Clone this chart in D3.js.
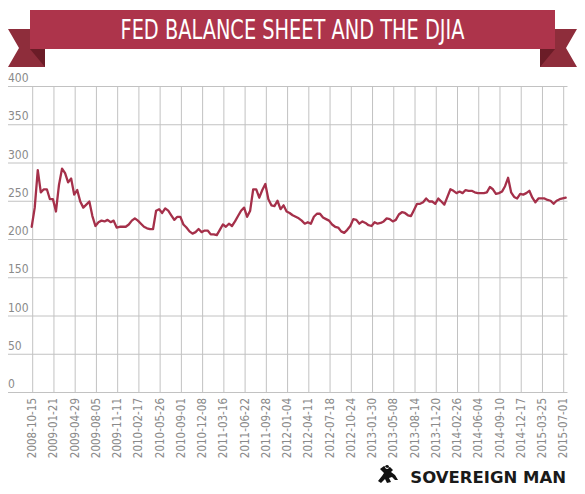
<!DOCTYPE html>
<html>
<head>
<meta charset="utf-8">
<script src="https://cdn.jsdelivr.net/npm/d3@7/dist/d3.min.js"></script>
<style>
  html, body { margin: 0; padding: 0; background: #fff; }
  svg { display: block; }
  .narrow { font-family: "Liberation Sans Narrow", "DejaVu Sans Condensed", "Roboto", "Liberation Sans", sans-serif; }
</style>
</head>
<body>
<div id="chart"></div>
<script>
// ---- data ----
const title = "FED BALANCE SHEET AND THE DJIA";
const brand = "SOVEREIGN MAN";
const startDate = "2008-10-15";   // first observation
const stepDays = 14;              // one value every two weeks
const values = [
  216, 241, 290, 261, 265, 265, 252, 252, 236, 271,
  292, 286, 274, 279, 258, 264, 249, 241, 245, 249,
  230, 217, 222, 224, 223, 225, 222, 224, 215, 216,
  216, 216, 219, 224, 227, 224, 220, 216, 214, 213,
  213, 237, 239, 234, 240, 237, 231, 225, 229, 229,
  219, 215, 210, 207, 209, 213, 209, 211, 211, 206,
  206, 205, 212, 219, 216, 220, 217, 223, 230, 237,
  241, 229, 237, 265, 265, 254, 264, 272, 252, 244,
  243, 250, 239, 244, 236, 234, 231, 229, 227, 224,
  220, 222, 220, 229, 233, 233, 228, 226, 224, 219,
  216, 215, 210, 208, 212, 217, 226, 225, 220, 223,
  221, 218, 217, 222, 220, 221, 223, 227, 226, 223,
  225, 232, 235, 234, 231, 230, 238, 246, 246, 248,
  253, 249, 249, 246, 253, 249, 245, 255, 265, 263,
  260, 262, 260, 264, 263, 263, 261, 260, 260, 260,
  261, 268, 265, 259, 260, 262, 269, 280, 261, 255,
  253, 259, 258, 260, 263, 254, 248, 253, 253, 253,
  251, 250, 246, 250, 252, 253, 254
];
const xTickLabels = [
  "2008-10-15", "2009-01-21", "2009-04-29", "2009-08-05", "2009-11-11",
  "2010-02-17", "2010-05-26", "2010-09-01", "2010-12-08", "2011-03-16",
  "2011-06-22", "2011-09-28", "2012-01-04", "2012-04-11", "2012-07-18",
  "2012-10-24", "2013-01-30", "2013-05-08", "2013-08-14", "2013-11-20",
  "2014-02-26", "2014-06-04", "2014-09-10", "2014-12-17", "2015-03-25",
  "2015-07-01"
];
const yTicks = [0, 50, 100, 150, 200, 250, 300, 350, 400];

// ---- build ----
const W = 585, H = 494;
const parse = d3.utcParse("%Y-%m-%d");
const t0 = parse(startDate);
const series = values.map((v, i) => ({ date: d3.utcDay.offset(t0, i * stepDays), value: v }));

const svg = d3.select("#chart").append("svg").attr("width", W).attr("height", H);

const x = d3.scaleUtc()
  .domain([parse(xTickLabels[0]), parse(xTickLabels[xTickLabels.length - 1])])
  .range([31.7, 562.7]);
const y = d3.scaleLinear().domain([0, 400]).range([392, 86]);

const gridLeft = 8, gridRight = 567.5;

// horizontal grid + y labels
const gy = svg.append("g");
gy.selectAll("line").data(yTicks).join("line")
  .attr("x1", gridLeft).attr("x2", gridRight)
  .attr("y1", d => y(d) + 0.5).attr("y2", d => y(d) + 0.5)
  .attr("stroke", "#c2c2c2").attr("stroke-width", 1);
gy.selectAll("text").data(yTicks).join("text")
  .attr("class", "narrow")
  .attr("x", gridLeft).attr("y", d => y(d) - 4)
  .attr("font-size", 12).attr("fill", "#8a8a8a")
  .text(d => d);

// vertical grid + x labels (using d3 axis for positions)
const tickDates = xTickLabels.map(parse);
const xAxis = d3.axisBottom(x).tickValues(tickDates)
  .tickSize(-(392 - 86)).tickSizeOuter(0).tickPadding(0)
  .tickFormat(d3.utcFormat("%Y-%m-%d"));
const gx = svg.append("g").attr("transform", "translate(0,392)").call(xAxis);
gx.select(".domain").remove();
gx.selectAll(".tick line").attr("stroke", "#c2c2c2").attr("transform", "translate(0.5,0)");
gx.selectAll(".tick text")
  .attr("class", "narrow")
  .attr("font-size", 11.5).attr("fill", "#8a8a8a")
  .attr("text-anchor", "end")
  .attr("transform", "rotate(-90)")
  .attr("x", -6).attr("y", 0).attr("dy", "0.35em");

// line
const line = d3.line().x(d => x(d.date)).y(d => y(d.value));
svg.append("path").datum(series)
  .attr("d", line).attr("fill", "none")
  .attr("stroke", "#a5304a").attr("stroke-width", 2.3)
  .attr("stroke-linejoin", "round").attr("stroke-linecap", "round");

// ---- title ribbon ----
const rib = svg.append("g");
const bx0 = 30, bx1 = 555, by0 = 10, by1 = 49, tailTop = 29, tailBot = 67, notch = 11;
// left tail
rib.append("path").attr("fill", "#8e2d3b")
  .attr("d", `M${bx0 - 22},${tailTop} L${bx0 + 15},${tailTop} L${bx0 + 15},${tailBot} L${bx0 - 22},${tailBot} L${bx0 - 22 + notch},${(tailTop + tailBot) / 2} Z`);
rib.append("path").attr("fill", "#6b1c27")
  .attr("d", `M${bx0},${by1} L${bx0 + 15},${by1} L${bx0 + 15},${tailBot} Z`);
// right tail
rib.append("path").attr("fill", "#8e2d3b")
  .attr("d", `M${bx1 + 22},${tailTop} L${bx1 - 15},${tailTop} L${bx1 - 15},${tailBot} L${bx1 + 22},${tailBot} L${bx1 + 22 - notch},${(tailTop + tailBot) / 2} Z`);
rib.append("path").attr("fill", "#6b1c27")
  .attr("d", `M${bx1},${by1} L${bx1 - 15},${by1} L${bx1 - 15},${tailBot} Z`);
// main band
rib.append("rect").attr("x", bx0).attr("y", by0).attr("width", bx1 - bx0).attr("height", by1 - by0)
  .attr("fill", "#ad344b");
rib.append("text").attr("class", "narrow")
  .attr("x", (bx0 + bx1) / 2).attr("y", 39)
  .attr("text-anchor", "middle").attr("fill", "#ffffff")
  .attr("font-size", 26).attr("textLength", 344).attr("lengthAdjust", "spacingAndGlyphs")
  .text(title);

// ---- brand logo ----
const logo = svg.append("g").attr("transform", "translate(378,466)");
logo.append("path").attr("fill", "#111")
  .attr("d", "M2,3 L6,0 L9,2 L12,1 L15,4 L13,6 L17,9 L20,14 L17,14 L14,11 L11,12 L13,16 L9,17 L7,13 L3,17 L0,15 L4,10 L6,7 Z M9,-1 a2,2 0 1,0 0.1,0 Z");
logo.append("text")
  .attr("x", 188).attr("y", 17)
  .attr("text-anchor", "end")
  .attr("font-family", "'DejaVu Sans', Roboto, sans-serif")
  .attr("font-weight", "bold").attr("font-size", 16.5).attr("fill", "#1a1a1a")
  .text(brand);
</script>
</body>
</html>
